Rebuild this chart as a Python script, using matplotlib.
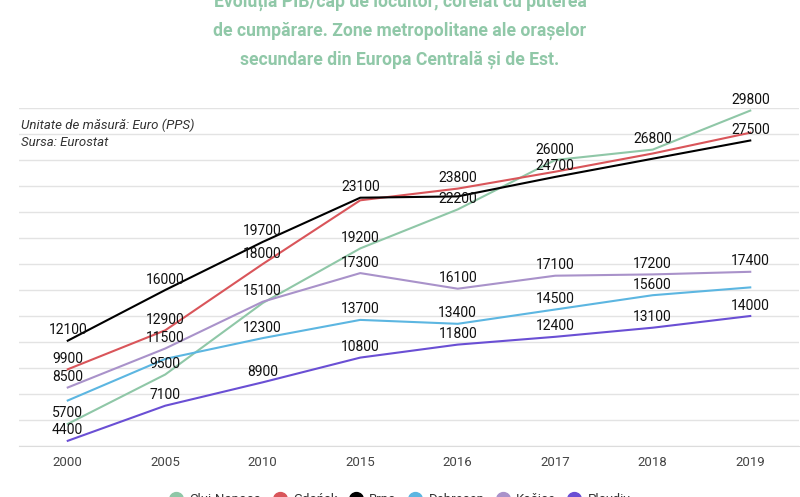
"""
PIB/cap (PPS) in secondary metropolitan areas of Central and Eastern Europe.
"""

import matplotlib
matplotlib.use("Agg")
import matplotlib.pyplot as plt
from matplotlib.lines import Line2D

plt.rcParams["font.family"] = ["Roboto", "DejaVu Sans"]

years = ["2000", "2005", "2010", "2015", "2016", "2017", "2018", "2019"]

cities = ["Cluj-Napoca", "Gdańsk", "Brno", "Debrecen", "Košice", "Plovdiv"]
cluj = [5700, 9500, 15000, 19200, 22200, 26000, 26800, 29800]
gdansk = [9900, 12900, 18000, 22900, 23800, 25100, 26500, 28100]
brno = [12100, 16000, 19700, 23100, 23200, 24700, 26100, 27500]
debrecen = [7500, 10700, 12300, 13700, 13400, 14500, 15600, 16200]
kosice = [8500, 11500, 15100, 17300, 16100, 17100, 17200, 17400]
plovdiv = [4400, 7100, 8900, 10800, 11800, 12400, 13100, 14000]
series = [cluj, gdansk, brno, debrecen, kosice, plovdiv]

colors = ["#8fc7a7", "#d9555a", "#000000", "#5cb6e1", "#a992ca", "#6a4fd4"]

# labels the original chart hides because they overlap (series index -> point indexes)
hidden_labels = {
    0: [2],
    1: [3, 5, 6, 7],
    2: [4, 6],
    3: [0, 1, 7],
}

title = ("Evoluția PIB/cap de locuitor, corelat cu puterea\n"
         "de cumpărare. Zone metropolitane ale orașelor\n"
         "secundare din Europa Centrală și de Est.")

fig = plt.figure(figsize=(8, 4.97), dpi=100)
ax = fig.add_axes([19 / 800, 1 - 446 / 497, 780 / 800, 338 / 497])

x = list(range(len(years)))
for i, (vals, color) in enumerate(zip(series, colors)):
    ax.plot(x, vals, color=color, linewidth=1.5, zorder=3)
    for j, v in enumerate(vals):
        if j in hidden_labels.get(i, []):
            continue
        ax.annotate(f"{v}", (j, v), xytext=(0, 2.5), textcoords="offset points",
                    ha="center", va="bottom", fontsize=10, color="#111111", zorder=5)

ax.set_xlim(-0.5, len(years) - 0.5)
ax.set_ylim(4000, 30000)
ax.set_yticks(range(4000, 30001, 2000))
ax.set_yticklabels([])
ax.set_xticks(x)
ax.set_xticklabels(years, fontsize=9.5, color="#444444")
ax.tick_params(axis="y", length=0)
ax.tick_params(axis="x", length=0, pad=7)
ax.grid(axis="y", color="#e3e3e3", linewidth=1)
for side in ["top", "right", "left"]:
    ax.spines[side].set_visible(False)
ax.spines["bottom"].set_color("#dcdcdc")
ax.set_axisbelow(True)

fig.text(0.5, 1 - 31 / 497, title, ha="center", va="center", fontsize=12.7,
         fontweight="bold", color="#90c8a8", linespacing=1.78)

fig.text(21 / 800, 1 - 125 / 497, "Unitate de măsură: Euro (PPS)", ha="left", va="center",
         fontsize=9.5, style="italic", color="#333333")
fig.text(21 / 800, 1 - 143 / 497, "Sursa: Eurostat", ha="left", va="center",
         fontsize=9.5, style="italic", color="#333333")

handles = [Line2D([], [], linestyle="none", marker="o", markersize=10,
                  markerfacecolor=c, markeredgecolor=c) for c in colors]
fig.legend(handles, cities, loc="center", bbox_to_anchor=(0.5, -0.006), ncol=6,
           frameon=False, fontsize=9.5, handlelength=1.0, handletextpad=0.5,
           columnspacing=0.9, labelcolor="#333333")

fig.savefig("out.png", dpi=100)
